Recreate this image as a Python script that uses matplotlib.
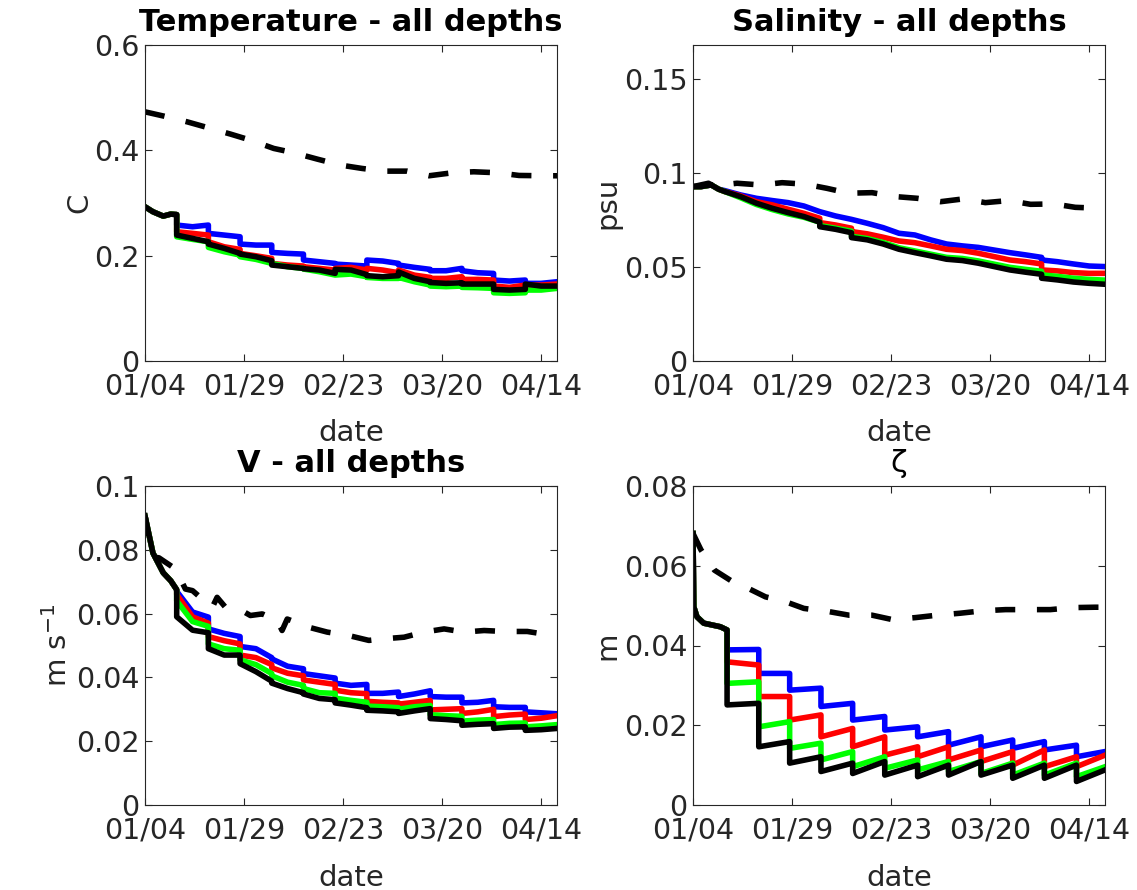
import matplotlib
matplotlib.use("Agg")
import matplotlib.pyplot as plt
import numpy as np

plt.rcParams['font.family'] = ['DejaVu Sans']
plt.rcParams['mathtext.fontset'] = 'dejavusans'

# ---------------- data (days since 01/04) ----------------
tick_days = [0, 25, 50, 75, 100]
tick_labels = ['01/04', '01/29', '02/23', '03/20', '04/14']

# shared time grid for T, S, V (repeated days = step drops)
t_left = [0, 2, 4.6, 6.5, 8, 8, 12, 16, 16, 20, 24, 24, 28, 32, 32, 36, 40, 40, 44, 48, 48,
          52, 56, 56, 60, 64, 64, 68, 72, 72, 76, 80, 80, 84, 88, 88, 92, 96, 96, 100, 104]

# Temperature
T_blue = [0.2928, 0.2834, 0.2751, 0.2789, 0.2780, 0.2581, 0.2549, 0.2581, 0.2423, 0.2391, 0.2359,
          0.2220, 0.2201, 0.2201, 0.2062, 0.2043, 0.2030, 0.1917, 0.1885, 0.1853, 0.1840,
          0.1822, 0.1803, 0.1917, 0.1898, 0.1853, 0.1822, 0.1778, 0.1740, 0.1714, 0.1714,
          0.1759, 0.1714, 0.1676, 0.1663, 0.1537, 0.1518, 0.1537, 0.1474, 0.1474, 0.1505]
T_red = [0.2928, 0.2834, 0.2751, 0.2789, 0.2780, 0.2454, 0.2423, 0.2391, 0.2264, 0.2169, 0.2119,
         0.2043, 0.1998, 0.1948, 0.1853, 0.1822, 0.1803, 0.1790, 0.1758, 0.1727, 0.1758,
         0.1778, 0.1727, 0.1759, 0.1727, 0.1676, 0.1727, 0.1631, 0.1587, 0.1568, 0.1568,
         0.1600, 0.1549, 0.1549, 0.1537, 0.1423, 0.1398, 0.1442, 0.1442, 0.1442, 0.1461]
T_green = [0.2928, 0.2834, 0.2751, 0.2789, 0.2780, 0.2359, 0.2309, 0.2264, 0.2157, 0.2075, 0.2011,
           0.1980, 0.1929, 0.1853, 0.1853, 0.1790, 0.1758, 0.1746, 0.1695, 0.1632, 0.1632,
           0.1651, 0.1600, 0.1587, 0.1568, 0.1568, 0.1587, 0.1505, 0.1442, 0.1423, 0.1411,
           0.1423, 0.1398, 0.1391, 0.1379, 0.1296, 0.1284, 0.1296, 0.1347, 0.1347, 0.1379]
T_black = [0.2928, 0.2834, 0.2751, 0.2789, 0.2780, 0.2391, 0.2328, 0.2264, 0.2220, 0.2138, 0.2043,
           0.2030, 0.1980, 0.1904, 0.1822, 0.1790, 0.1758, 0.1752, 0.1727, 0.1664, 0.1740,
           0.1727, 0.1640, 0.1620, 0.1600, 0.1620, 0.1690, 0.1568, 0.1505, 0.1490, 0.1474,
           0.1486, 0.1461, 0.1461, 0.1461, 0.1360, 0.1347, 0.1360, 0.1461, 0.1423, 0.1423]
T_dash_t = [0, 4.8, 10.6, 15.7, 21.6, 26.6, 32.5, 37.6, 43.5, 49.4, 54.8, 60.3, 66.2, 71.7,
            77.6, 83, 89, 94.4, 100.7, 104]
T_dash = [0.4731, 0.4649, 0.4542, 0.4434, 0.4308, 0.4194, 0.4036, 0.3953, 0.3833, 0.3719,
          0.3656, 0.3605, 0.3605, 0.3517, 0.3574, 0.3593, 0.3574, 0.3523, 0.3517, 0.3517]

# Salinity
S_blue = [0.0927, 0.0927, 0.0936, 0.0913, 0.0906, 0.0906, 0.0883, 0.0865, 0.0865, 0.0853, 0.0842,
          0.0842, 0.0824, 0.0794, 0.0794, 0.0771, 0.0753, 0.0753, 0.0732, 0.0709, 0.0709,
          0.0679, 0.0670, 0.0670, 0.0644, 0.0622, 0.0622, 0.0612, 0.0604, 0.0604, 0.0590,
          0.0576, 0.0576, 0.0564, 0.0551, 0.0537, 0.0528, 0.0516, 0.0516, 0.0505, 0.0502]
S_red = [0.0927, 0.0927, 0.0936, 0.0913, 0.0901, 0.0901, 0.0878, 0.0847, 0.0847, 0.0830, 0.0807,
         0.0807, 0.0785, 0.0759, 0.0736, 0.0723, 0.0706, 0.0688, 0.0676, 0.0658, 0.0658,
         0.0638, 0.0629, 0.0629, 0.0612, 0.0594, 0.0594, 0.0587, 0.0573, 0.0573, 0.0555,
         0.0537, 0.0537, 0.0528, 0.0516, 0.0484, 0.0479, 0.0470, 0.0470, 0.0466, 0.0466]
S_green = [0.0927, 0.0927, 0.0936, 0.0913, 0.0901, 0.0901, 0.0868, 0.0832, 0.0832, 0.0805, 0.0782,
           0.0782, 0.0764, 0.0738, 0.0720, 0.0706, 0.0690, 0.0663, 0.0651, 0.0630, 0.0630,
           0.0602, 0.0585, 0.0585, 0.0568, 0.0551, 0.0551, 0.0545, 0.0532, 0.0532, 0.0515,
           0.0498, 0.0498, 0.0487, 0.0477, 0.0458, 0.0450, 0.0440, 0.0440, 0.0434, 0.0430]
S_black = [0.0927, 0.0927, 0.0936, 0.0913, 0.0901, 0.0901, 0.0874, 0.0839, 0.0839, 0.0812, 0.0789,
           0.0789, 0.0768, 0.0738, 0.0714, 0.0700, 0.0682, 0.0656, 0.0644, 0.0622, 0.0622,
           0.0594, 0.0576, 0.0576, 0.0559, 0.0541, 0.0541, 0.0534, 0.0520, 0.0520, 0.0502,
           0.0484, 0.0484, 0.0472, 0.0461, 0.0440, 0.0431, 0.0420, 0.0420, 0.0413, 0.0408]
S_dash_t = [0, 3.9, 5.2, 11.1, 17, 22.5, 28.4, 33.8, 39.3, 45.2, 51.1, 56.6, 62.5, 68.3, 73.8,
            79.7, 85.2, 91.1, 96.5, 102.9, 104]
S_dash = [0.0927, 0.0945, 0.0931, 0.0945, 0.0936, 0.0948, 0.0940, 0.0918, 0.0892, 0.0895, 0.0874,
          0.0865, 0.0847, 0.0862, 0.0842, 0.0853, 0.0833, 0.0835, 0.0817, 0.0812, 0.0810]

# V
V_blue = [0.0906, 0.0790, 0.0728, 0.0703, 0.0675, 0.0670, 0.0605, 0.0589, 0.0552, 0.0538, 0.0528,
          0.0497, 0.0490, 0.0462, 0.0458, 0.0435, 0.0427, 0.0412, 0.0405, 0.0398, 0.0382,
          0.0375, 0.0378, 0.0350, 0.0350, 0.0354, 0.0340, 0.0348, 0.0358, 0.0340, 0.0338,
          0.0338, 0.0320, 0.0322, 0.0328, 0.0308, 0.0306, 0.0306, 0.0292, 0.0289, 0.0286]
V_red = [0.0906, 0.0790, 0.0728, 0.0703, 0.0675, 0.0660, 0.0590, 0.0570, 0.0528, 0.0515, 0.0505,
         0.0470, 0.0462, 0.0440, 0.0430, 0.0413, 0.0405, 0.0392, 0.0385, 0.0378, 0.0360,
         0.0352, 0.0349, 0.0325, 0.0322, 0.0320, 0.0316, 0.0322, 0.0328, 0.0298, 0.0300,
         0.0302, 0.0287, 0.0292, 0.0300, 0.0277, 0.0282, 0.0285, 0.0268, 0.0272, 0.0280]
V_green = [0.0906, 0.0790, 0.0728, 0.0703, 0.0675, 0.0640, 0.0575, 0.0560, 0.0505, 0.0490, 0.0485,
           0.0455, 0.0440, 0.0412, 0.0405, 0.0385, 0.0375, 0.0365, 0.0352, 0.0350, 0.0335,
           0.0328, 0.0322, 0.0310, 0.0308, 0.0305, 0.0300, 0.0308, 0.0312, 0.0283, 0.0280,
           0.0278, 0.0263, 0.0266, 0.0268, 0.0252, 0.0256, 0.0257, 0.0245, 0.0248, 0.0252]
V_black = [0.0906, 0.0790, 0.0728, 0.0703, 0.0675, 0.0590, 0.0548, 0.0540, 0.0490, 0.0470, 0.0470,
           0.0443, 0.0418, 0.0388, 0.0382, 0.0365, 0.0352, 0.0348, 0.0334, 0.0330, 0.0320,
           0.0313, 0.0305, 0.0297, 0.0295, 0.0292, 0.0287, 0.0295, 0.0302, 0.0271, 0.0268,
           0.0264, 0.0250, 0.0253, 0.0255, 0.0240, 0.0244, 0.0245, 0.0234, 0.0236, 0.0240]
V_dash_t = [0, 1.4, 2.7, 3.5, 7.7, 10.2, 12, 14.4, 17, 18.2, 20.3, 24.5, 26.6, 29.6, 33.4, 34.6,
            35.9, 41.4, 46, 51.5, 56.5, 60.3, 65.4, 70.4, 75.5, 80.5, 85.6, 90.6, 96.5, 101.6, 104]
V_dash = [0.0906, 0.0807, 0.0776, 0.0775, 0.0740, 0.0677, 0.0672, 0.0646, 0.0620, 0.0651, 0.0620,
          0.0609, 0.0594, 0.0599, 0.0578, 0.0547, 0.0583, 0.0557, 0.0542, 0.0531, 0.0516,
          0.0521, 0.0526, 0.0542, 0.0552, 0.0542, 0.0547, 0.0544, 0.0544, 0.0534, 0.0534]

# zeta
t_zeta = [0, 0.2, 1, 2.7, 6.9, 8.6, 8.6, 16.6, 16.6, 24.4, 24.4, 32.3, 32.3, 40.3, 40.3, 48.4, 48.4,
          56.7, 56.7, 64.5, 64.5, 72.7, 72.7, 80.7, 80.7, 88.7, 88.7, 96.8, 96.8, 104]
Z_blue = [0.0681, 0.0497, 0.0472, 0.0456, 0.0447, 0.0439, 0.0389, 0.0390, 0.0330, 0.0330, 0.0288,
          0.0293, 0.0247, 0.0255, 0.0213, 0.0222, 0.0188, 0.0196, 0.0171, 0.0184, 0.0150,
          0.0171, 0.0146, 0.0163, 0.0142, 0.0159, 0.0138, 0.0150, 0.0121, 0.0134]
Z_red = [0.0681, 0.0497, 0.0472, 0.0456, 0.0447, 0.0439, 0.0359, 0.0351, 0.0272, 0.0272, 0.0213,
         0.0226, 0.0171, 0.0192, 0.0146, 0.0171, 0.0125, 0.0146, 0.0121, 0.0146, 0.0113,
         0.0138, 0.0109, 0.0134, 0.0100, 0.0138, 0.0096, 0.0121, 0.0096, 0.0125]
Z_green = [0.0681, 0.0497, 0.0472, 0.0456, 0.0447, 0.0439, 0.0305, 0.0309, 0.0196, 0.0209, 0.0142,
           0.0155, 0.0113, 0.0134, 0.0096, 0.0121, 0.0092, 0.0113, 0.0088, 0.0109, 0.0084,
           0.0109, 0.0079, 0.0105, 0.0075, 0.0105, 0.0075, 0.0105, 0.0071, 0.0096]
Z_black = [0.0681, 0.0497, 0.0472, 0.0456, 0.0447, 0.0439, 0.0251, 0.0255, 0.0146, 0.0159, 0.0105,
           0.0121, 0.0084, 0.0105, 0.0079, 0.0109, 0.0075, 0.0100, 0.0071, 0.0100, 0.0075,
           0.0109, 0.0075, 0.0100, 0.0067, 0.0100, 0.0067, 0.0100, 0.0059, 0.0088]
Z_dash_t = [0, 2, 5.4, 10, 14, 18.3, 23.3, 28, 34.3, 39.4, 45.2, 50.3, 56.2, 61.6, 67.5, 73, 78.9,
            84.3, 90.2, 95.7, 101.5, 104]
Z_dash = [0.0681, 0.0640, 0.0589, 0.0560, 0.0543, 0.0522, 0.0510, 0.0493, 0.0485, 0.0476, 0.0476,
          0.0465, 0.0470, 0.0476, 0.0481, 0.0487, 0.0490, 0.0490, 0.0490, 0.0495, 0.0496, 0.0496]

# ---------------- figure ----------------
W, H = 1137, 890
fig = plt.figure(figsize=(W / 100, H / 100), dpi=100)

def px_axes(x0, y0, x1, y1):
    return fig.add_axes([x0 / W, 1 - y1 / H, (x1 - x0) / W, (y1 - y0) / H])

LW = 4.0
DASH = (0, (3.6, 3.9))
GRAY = '#262626'
FS_TICK = 20.5
FS_LAB = 21
FS_TITLE = 22


def panel(ax, t, blue, red, green, black, td, dash, ylim, yticks, yticklabels,
          ylabel, ylab_xy, title, bold=True):
    ax.plot(t, blue, color=(0, 0, 1), lw=LW)
    ax.plot(t, red, color=(1, 0, 0), lw=LW)
    ax.plot(t, green, color=(0, 1, 0), lw=LW)
    ax.plot(t, black, color='k', lw=LW)
    ax.plot(td, dash, color='k', lw=LW, linestyle=DASH)
    ax.set_xlim(0, 104)
    ax.set_ylim(*ylim)
    ax.set_xticks(tick_days)
    ax.set_xticklabels(tick_labels)
    ax.set_yticks(yticks)
    ax.set_yticklabels(yticklabels)
    ax.tick_params(direction='in', top=True, right=True, length=5, width=0.8,
                   labelsize=FS_TICK, colors=GRAY, labelcolor=GRAY)
    ax.tick_params(axis='x', pad=8)
    ax.tick_params(axis='y', pad=4)
    for s in ax.spines.values():
        s.set_color(GRAY)
        s.set_linewidth(0.8)
    ax.set_xlabel('date', fontsize=FS_LAB, color=GRAY)
    ax.xaxis.set_label_coords(0.5, -0.185)
    ax.set_ylabel(ylabel, fontsize=FS_LAB, color=GRAY)
    ax.yaxis.set_label_coords(*ylab_xy)
    ax.set_title(title, fontsize=FS_TITLE, fontweight='bold' if bold else 'normal',
                 color='k', pad=10)


ax1 = px_axes(145, 45, 557, 361)
panel(ax1, t_left, T_blue, T_red, T_green, T_black, T_dash_t, T_dash, (0, 0.6),
      [0, 0.2, 0.4, 0.6], ['0', '0.2', '0.4', '0.6'], 'C', (-0.125, 0.5),
      'Temperature - all depths')

ax2 = px_axes(693, 45, 1105, 361)
panel(ax2, t_left, S_blue, S_red, S_green, S_black, S_dash_t, S_dash, (0, 0.168),
      [0, 0.05, 0.1, 0.15], ['0', '0.05', '0.1', '0.15'], 'psu', (-0.175, 0.5),
      'Salinity - all depths')

ax3 = px_axes(145, 486, 557, 805)
panel(ax3, t_left, V_blue, V_red, V_green, V_black, V_dash_t, V_dash, (0, 0.1),
      [0, 0.02, 0.04, 0.06, 0.08, 0.1], ['0', '0.02', '0.04', '0.06', '0.08', '0.1'],
      r'm s$^{-1}$', (-0.175, 0.5), 'V - all depths')

ax4 = px_axes(693, 486, 1105, 805)
panel(ax4, t_zeta, Z_blue, Z_red, Z_green, Z_black, Z_dash_t, Z_dash, (0, 0.08),
      [0, 0.02, 0.04, 0.06, 0.08], ['0', '0.02', '0.04', '0.06', '0.08'],
      'm', (-0.175, 0.5), 'ζ', bold=False)

fig.savefig('out.png', dpi=100)
